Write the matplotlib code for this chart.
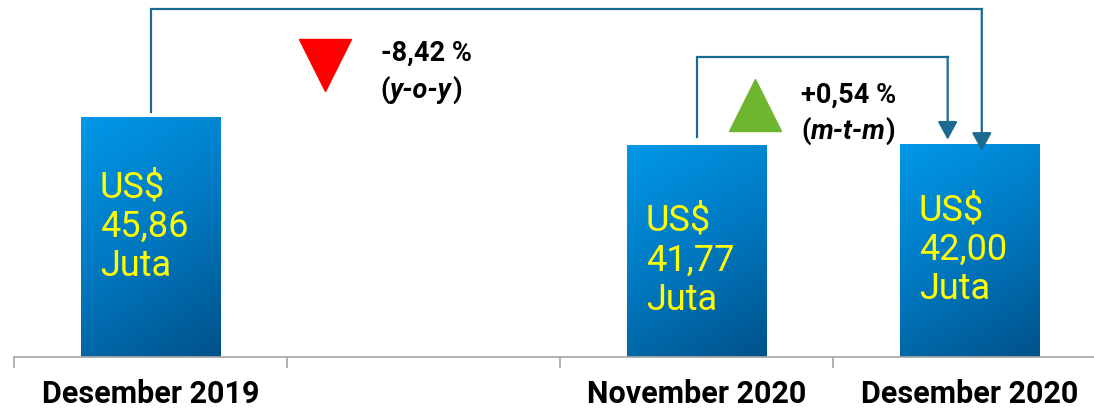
import matplotlib
matplotlib.use("Agg")
import matplotlib.pyplot as plt
import numpy as np
from matplotlib.colors import LinearSegmentedColormap

plt.rcParams["font.family"] = ["Roboto", "DejaVu Sans"]

# ── Data ─────────────────────────────────────────────
categories = ["Desember 2019", "", "November 2020", "Desember 2020"]
bar_pos = [0, 2, 3]
bar_values = [45.86, 41.77, 42.00]
bar_labels = ["US$\n45,86\nJuta", "US$\n41,77\nJuta", "US$\n42,00\nJuta"]
yoy_text = "-8,42 %"
mtm_text = "+0,54 %"

BLUE_DARK = "#1b6a92"
grad_cmap = LinearSegmentedColormap.from_list("bar", ["#0098e8", "#0078c0", "#00528a"])
Y_MIN, Y_MAX = 10.4, 63.47

fig = plt.figure(figsize=(10.94, 4.14), dpi=100)
ax = fig.add_axes([14 / 1094, 1 - 357.7 / 414, 4 * 273 / 1094, 357.7 / 414])

# ── Bars with gradient fill ──────────────────────────
bars = ax.bar(bar_pos, bar_values, width=0.51, color="none", zorder=2)
u = np.linspace(0, 1, 200)
v = np.linspace(0, 1, 200)
U, V = np.meshgrid(u, v)
grad = 0.72 * V + 0.28 * U
for b in bars:
    x0, w, h = b.get_x(), b.get_width(), b.get_height()
    ax.imshow(grad, cmap=grad_cmap, vmin=0, vmax=1, aspect="auto",
              extent=(x0, x0 + w, Y_MIN, h), origin="upper", zorder=2)

label_dy = [8, -6, 1]
for x, val, lab, dy in zip(bar_pos, bar_values, bar_labels, label_dy):
    ax.annotate(lab, xy=(x - 0.255 + 0.07, (val + Y_MIN) / 2), xytext=(0, dy),
                textcoords="offset points", ha="left", va="center",
                color="#ffff00", fontsize=26, linespacing=1.12, zorder=3)

ax.set_xlim(-0.5, 3.5)
ax.set_ylim(Y_MIN, Y_MAX)

# ── Axis styling ─────────────────────────────────────
for s in ["top", "left", "right"]:
    ax.spines[s].set_visible(False)
ax.spines["bottom"].set_color("#a6a6a6")
ax.spines["bottom"].set_linewidth(1.2)
ax.set_yticks([])
ax.set_xticks(np.arange(-0.5, 4, 1.0))
ax.set_xticklabels([])
ax.tick_params(axis="x", which="major", length=8, color="#a6a6a6", width=1.2)
ax.set_xticks(range(len(categories)), minor=True)
ax.set_xticklabels(categories, minor=True, fontsize=22, fontweight="bold")
ax.tick_params(axis="x", which="minor", length=0, pad=15)


# ── Bracket arrows ───────────────────────────────────
def bracket(x0, x1, y_start, y_top, y_tip):
    ax.plot([x0, x0, x1], [y_start, y_top, y_top], color=BLUE_DARK, lw=1.6,
            solid_joinstyle="miter", zorder=4, clip_on=False)
    ax.annotate("", xy=(x1, y_tip), xytext=(x1, y_top),
                arrowprops=dict(arrowstyle="-|>,head_length=0.55,head_width=0.3",
                                color=BLUE_DARK, lw=1.6, shrinkA=0, shrinkB=0,
                                mutation_scale=20), zorder=4)


bracket(bar_pos[0], bar_pos[2] + 0.045, bar_values[0] + 0.85, 62.0, bar_values[2] - 1.05)
bracket(bar_pos[1], bar_pos[2] - 0.08, bar_values[1] + 1.26, 54.9, bar_values[2] + 0.6)

# ── Change markers and labels ────────────────────────
ax.plot([0.641], [53.7], marker="v", markersize=37, color="#ff0000", zorder=4)
ax.plot([2.214], [47.7], marker="^", markersize=37, color="#6db52e", zorder=4)


def change_label(x, y, pct, abbrev):
    ax.text(x, y, pct, fontsize=19.5, fontweight="bold", ha="left", va="center")
    t1 = ax.text(x, y - 5.4, "(", fontsize=19.5, fontweight="bold", ha="left", va="center")
    t2 = ax.annotate(abbrev, xy=(1, 0), xycoords=t1, fontsize=19.5, fontweight="bold",
                     fontstyle="italic", ha="left", va="bottom")
    ax.annotate(")", xy=(1, 0), xycoords=t2, fontsize=19.5, fontweight="bold",
                ha="left", va="bottom")


change_label(0.843, 55.6, yoy_text, "y-o-y")
change_label(2.384, 49.4, mtm_text, "m-t-m")

fig.savefig("out.png", dpi=100)
